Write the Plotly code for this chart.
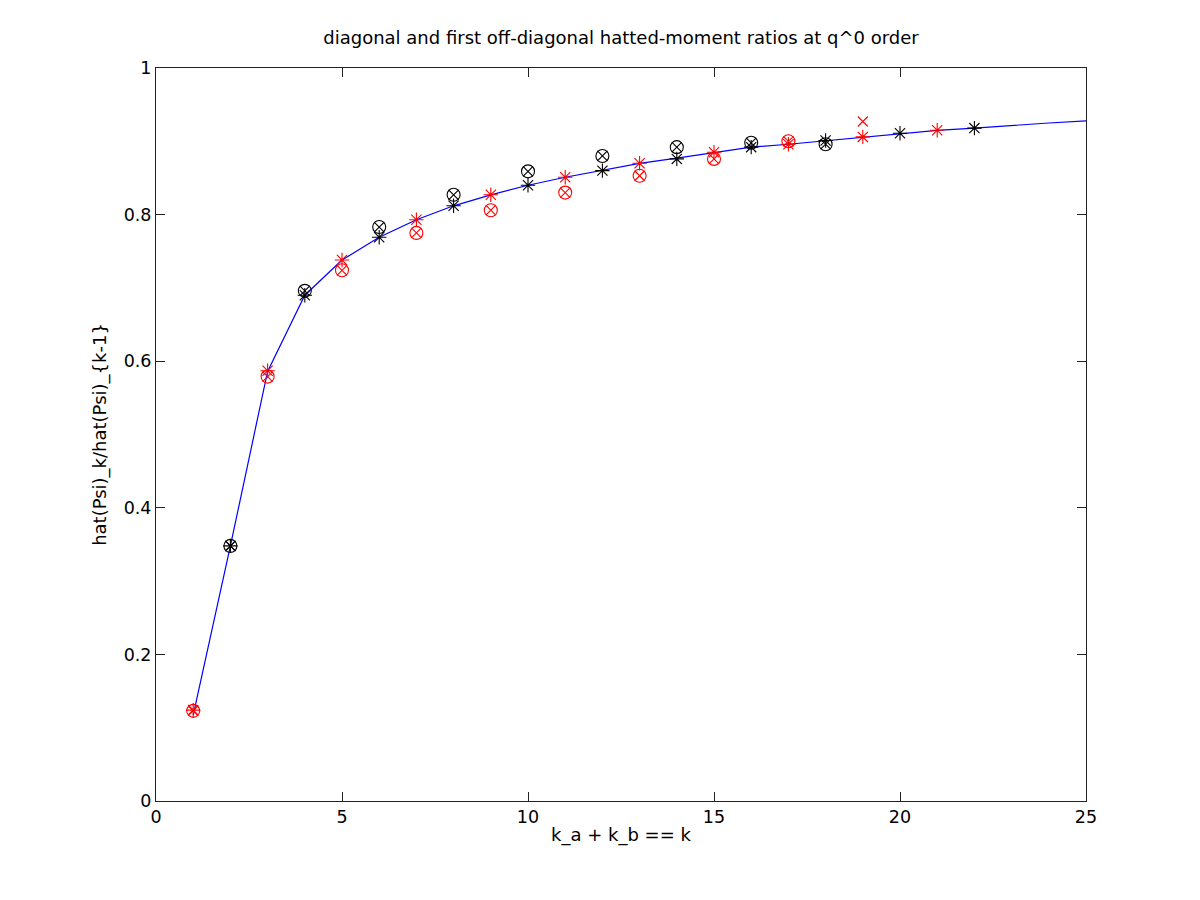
import plotly.graph_objects as go

# Blue reference curve
k_line = list(range(1, 26))
ratio_line = [0.117, 0.348, 0.586, 0.690, 0.738, 0.769, 0.793, 0.812, 0.827, 0.840,
              0.851, 0.860, 0.870, 0.877, 0.885, 0.892, 0.896, 0.901, 0.906, 0.911,
              0.915, 0.918, 0.922, 0.925, 0.928]

# Asterisks
k_even = [2, 4, 6, 8, 10, 12, 14, 16, 18, 20, 22]
star_even = [0.348, 0.690, 0.769, 0.812, 0.840, 0.860, 0.876, 0.892, 0.901, 0.911, 0.918]
k_odd = [1, 3, 5, 7, 9, 11, 13, 15, 17, 19, 21]
star_odd = [0.124, 0.587, 0.738, 0.793, 0.827, 0.851, 0.870, 0.885, 0.896, 0.906, 0.915]

# Circles / crosses
k_even_o = [2, 4, 6, 8, 10, 12, 14, 16, 18]
ox_even = [0.348, 0.696, 0.783, 0.827, 0.859, 0.880, 0.892, 0.898, 0.896]
k_odd_o = [1, 3, 5, 7, 9, 11, 13, 15, 17]
o_odd = [0.123, 0.579, 0.724, 0.775, 0.806, 0.830, 0.853, 0.876, 0.900]
k_odd_x = [1, 3, 5, 7, 9, 11, 13, 15, 17, 19]
x_odd = [0.123, 0.579, 0.724, 0.775, 0.806, 0.830, 0.853, 0.876, 0.900, 0.927]

fig = go.Figure()
fig.add_trace(go.Scatter(x=k_line, y=ratio_line, mode="lines",
                         line=dict(color="#0000ff", width=1.2)))

def mk(x, y, sym, color, size):
    return go.Scatter(x=x, y=y, mode="markers",
                      marker=dict(symbol=sym, size=size, color=color,
                                  line=dict(color=color, width=1.1)))

fig.add_trace(mk(k_even, star_even, "asterisk-open", "black", 12))
fig.add_trace(mk(k_odd, star_odd, "asterisk-open", "red", 12))
fig.add_trace(mk(k_even_o, ox_even, "circle-open", "black", 13))
fig.add_trace(mk(k_even_o, ox_even, "x-thin-open", "black", 10))
fig.add_trace(mk(k_odd_o, o_odd, "circle-open", "red", 13))
fig.add_trace(mk(k_odd_x, x_odd, "x-thin-open", "red", 10))

font = "DejaVu Sans, Liberation Sans, Arial, sans-serif"
axis_common = dict(showline=True, linecolor="#222", linewidth=1, mirror="ticks",
                   ticks="inside", ticklen=9, tickcolor="#222", tickwidth=1,
                   showgrid=False, zeroline=False,
                   tickfont=dict(family=font, size=17.5, color="black"))

fig.update_layout(
    width=1200, height=900,
    paper_bgcolor="white", plot_bgcolor="white",
    showlegend=False,
    margin=dict(l=156, r=114, t=68, b=99),
    title=dict(text="diagonal and first off-diagonal hatted-moment ratios at q^0 order",
               x=0.5175, xanchor="center", y=0.958, yanchor="middle",
               font=dict(family=font, size=18, color="black")),
    xaxis=dict(range=[0, 25], tickvals=[0, 5, 10, 15, 20, 25],
               title=dict(text="k_a + k_b == k", standoff=2,
                          font=dict(family=font, size=18, color="black")),
               **axis_common),
    yaxis=dict(range=[0, 1], tickvals=[0, 0.2, 0.4, 0.6, 0.8, 1],
               ticktext=["0", "0.2", "0.4", "0.6", "0.8", "1"],
               title=dict(text="hat(Psi)_k/hat(Psi)_{k-1}", standoff=12,
                          font=dict(family=font, size=18, color="black")),
               **axis_common),
)

fig.write_html("out.html")
